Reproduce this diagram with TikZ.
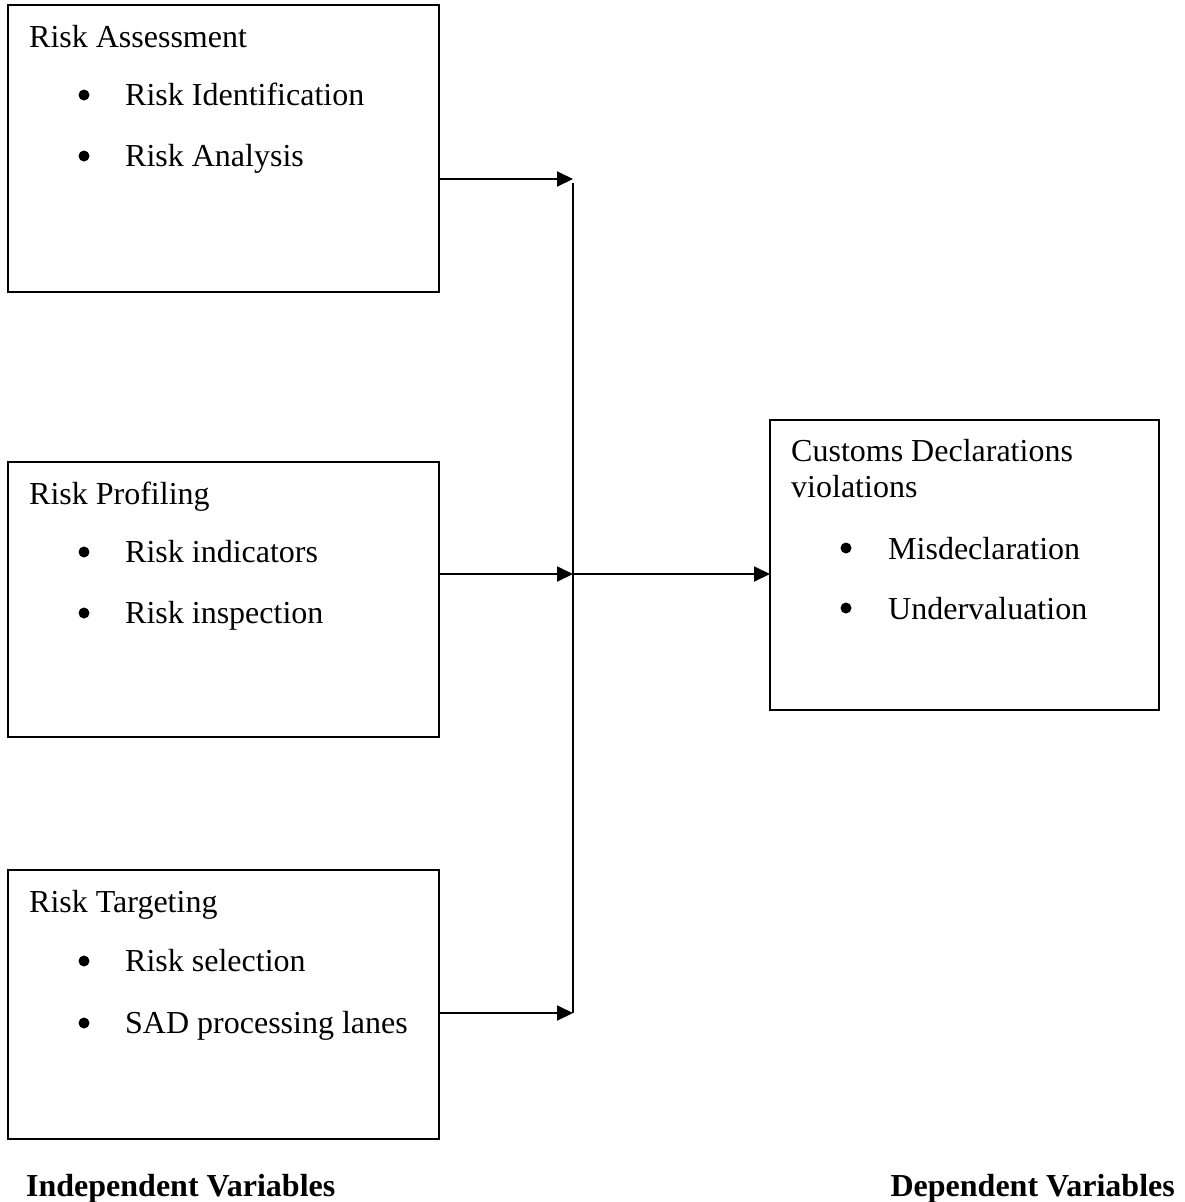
\documentclass[tikz,border=0pt]{standalone}
\usepackage{fontspec}
\setmainfont{Liberation Serif}
\usetikzlibrary{arrows.meta}
\begin{document}
\begin{tikzpicture}[x=1pt,y=-1pt,
  box/.style={draw,line width=1.9pt,inner sep=0pt,outer sep=0pt,anchor=north west},
  txt/.style={anchor=base west,inner sep=0pt,font=\fontsize{32}{38}\selectfont},
  bul/.style={circle,fill,inner sep=0pt,minimum size=11pt},
  lbl/.style={inner sep=0pt,font=\fontsize{32}{38}\selectfont\bfseries},
  arr/.style={line width=1.9pt,-{Triangle[length=16pt,width=15pt]}},
  vline/.style={line width=1.5pt}]
\useasboundingbox (0,0) rectangle (1184,1202);
% boxes
\node[box,minimum width=431pt,minimum height=287pt] (b1) at (8,5) {};
\node[box,minimum width=431pt,minimum height=275pt] (b2) at (8,462) {};
\node[box,minimum width=431pt,minimum height=269pt] (b3) at (8,870) {};
\node[box,minimum width=389pt,minimum height=290pt] (b4) at (770,420) {};
% box 1 text
\node[txt] (t1) at (29,47) {Risk Assessment};
\node[bul] (u11) at (84,95) {};
\node[txt] (t11) at (125,105) {Risk Identification};
\node[bul] (u12) at (84,156) {};
\node[txt] (t12) at (125,166) {Risk Analysis};
% box 2 text
\node[txt] (t2) at (29,504) {Risk Profiling};
\node[bul] (u21) at (84,552) {};
\node[txt] (t21) at (125,562) {Risk indicators};
\node[bul] (u22) at (84,613) {};
\node[txt] (t22) at (125,623) {Risk inspection};
% box 3 text
\node[txt] (t3) at (29,912) {Risk Targeting};
\node[bul] (u31) at (84,961) {};
\node[txt] (t31) at (125,971) {Risk selection};
\node[bul] (u32) at (84,1023) {};
\node[txt] (t32) at (125,1033) {SAD processing lanes};
% box 4 text
\node[txt] (t4) at (791,461) {Customs Declarations};
\node[txt] (t4b) at (791,497) {violations};
\node[bul] (u41) at (846,548) {};
\node[txt] (t41) at (888,559) {Misdeclaration};
\node[bul] (u42) at (846,608) {};
\node[txt] (t42) at (888,619) {Undervaluation};
% labels
\node[lbl,anchor=base west] (li) at (26,1196) {Independent Variables};
\node[lbl,anchor=base east] (ld) at (1175,1196) {Dependent Variables};
% connectors
\coordinate (j1) at (573,179);
\coordinate (jt) at (573,183);
\coordinate (j2) at (573,574);
\coordinate (j3) at (573,1013);
\draw[vline] (jt) -- (j3);
\draw[arr] (b1.east |- j1) -- (j1);
\draw[arr] (b2.east |- j2) -- (j2);
\draw[arr] (b3.east |- j3) -- (j3);
\draw[arr] (j2) -- (b4.west |- j2);
\end{tikzpicture}
\end{document}
